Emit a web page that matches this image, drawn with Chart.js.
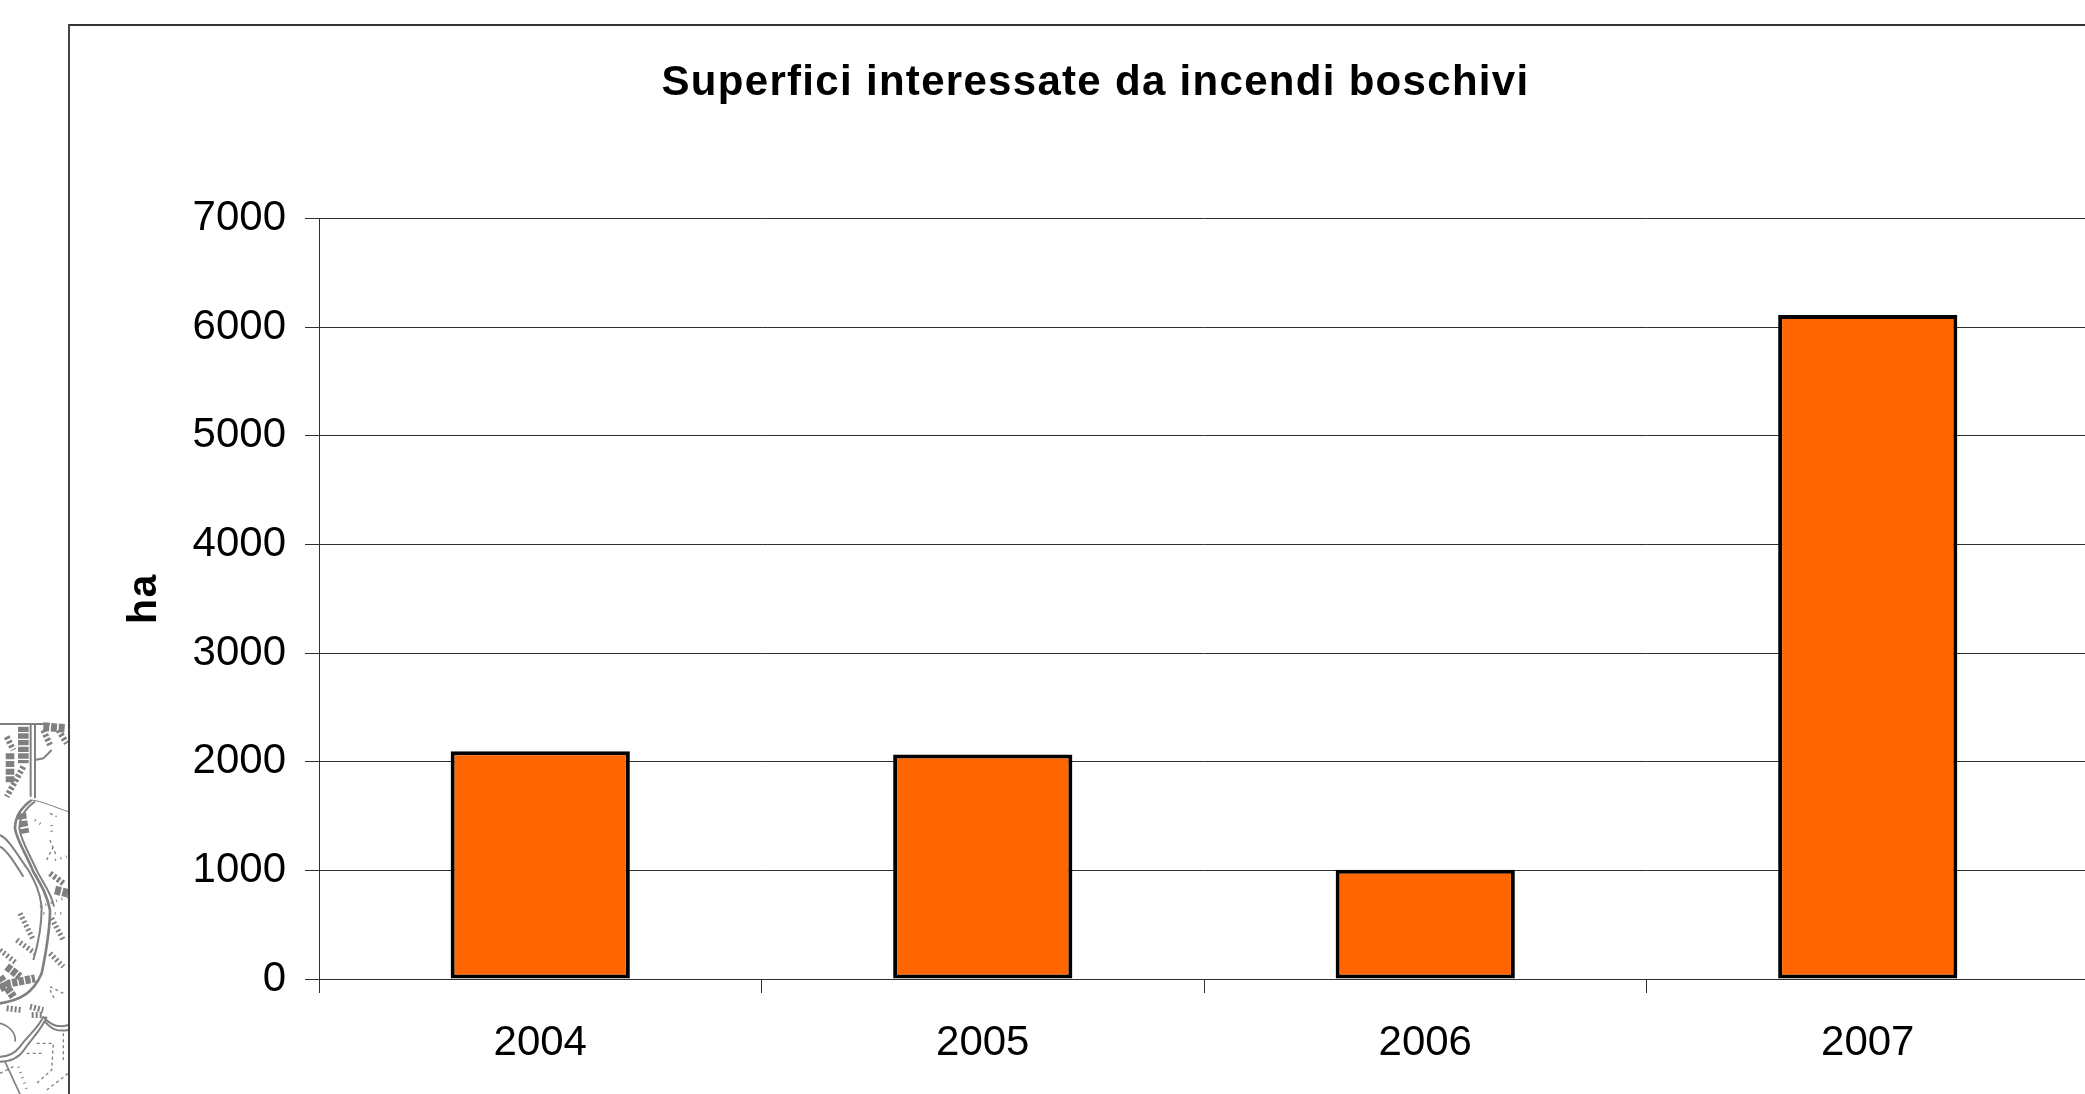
<!DOCTYPE html>
<html>
<head>
<meta charset="utf-8">
<title>Superfici interessate da incendi boschivi</title>
<script src="https://cdn.jsdelivr.net/npm/chart.js@4"></script>
<style>
  html, body { margin: 0; background: #fff; overflow: hidden; width: 2085px; height: 1094px; }
  #map { position: absolute; left: 0; top: 700px; }
  #frame { position: absolute; left: 68px; top: 24px; width: 2100px; height: 1200px; background: #fff; border-left: 2px solid #444; border-top: 2px solid #333; }
  #seasonChart { position: absolute; left: 0; top: 0; }
</style>
</head>
<body>
<!-- scrap of topographic map showing behind the chart frame -->
<svg id="map" width="69" height="394" viewBox="0 0 207 1182" fill="none" stroke="#808080" stroke-width="6">
  <path d="M0 72H150"/>
  <path stroke-width="6" d="M92 75V290M105 75V295M105 180L130 175L155 150"/>
  <path stroke-width="8" d="M95 300C60 325 45 350 45 385C50 420 75 455 100 515C120 550 140 580 150 630C150 700 135 770 125 820C100 880 60 900 0 910"/>
  <path stroke-width="6" d="M105 305C75 325 60 350 58 385C62 420 85 455 112 515C130 550 155 580 162 620"/>
  <path stroke-width="6" d="M0 405C30 420 55 470 85 510C105 545 120 575 125 620C125 680 115 730 100 780M0 440C20 450 45 490 70 530"/>
  <path stroke-width="3" d="M95 300C130 305 160 320 205 335"/>
  <path stroke-width="32" stroke-dasharray="16 4" d="M70 80V190"/>
  <path stroke-width="26" stroke-dasharray="18 5" d="M30 160V250M130 80L195 85M65 340L75 400M165 570L205 580"/>
  <path stroke-width="18" stroke-dasharray="8 6" d="M130 90L150 135M20 110L40 150M70 200L20 290M150 520L190 550M175 90L200 130"/>
  <path stroke-width="16" stroke-dasharray="6 7" d="M155 655L190 720M150 760L190 800M0 750L50 790M60 640L100 720M50 720L105 760"/>
  <path stroke-width="24" stroke-dasharray="16 4" d="M0 865L30 850L105 835M20 800L60 830M0 830L40 890"/>
  <path stroke-width="18" stroke-dasharray="6 6" d="M20 925L65 930M90 920L130 930M95 945L125 945"/>
  <path stroke-width="6" d="M130 950C115 985 80 1010 60 1040C45 1060 25 1070 0 1070M140 950C125 990 95 1015 72 1050C55 1075 30 1085 0 1085M130 950C150 975 175 985 205 975M135 965C155 990 175 995 205 990"/>
  <path stroke-width="5" d="M0 970C25 975 50 1000 45 1025M15 1085L45 1150L60 1182"/>
  <path stroke-width="4" stroke-dasharray="9 9" d="M110 1030H160L155 1110L110 1150M80 1060H130M140 1170L205 1120M190 1000V1080M0 1120L40 1100M150 860L190 880M150 870L165 900M150 420L170 470M160 440L140 480M150 340L170 350"/>
  <path stroke-width="8" stroke-dasharray="3 14" d="M120 620L205 590M130 640L190 640M155 375V395M105 360L125 375M165 480L200 470M55 1100L85 1180"/>
</svg>
<div id="frame"></div>
<canvas id="seasonChart" width="2190" height="1094"></canvas>
<script>
const years = ['2004', '2005', '2006', '2007'];
const hectares = [2095, 2065, 1005, 6110];
const chartTitle = 'Superfici interessate da incendi boschivi';
const yTitle = 'ha';
const lineColor = '#2e2e2e';

// title is letter-spaced in the original, only the title layer gets this
const titleSpacing = {
  id: 'titleSpacing',
  beforeDraw: function (chart) { chart.ctx.letterSpacing = '1.3px'; },
  beforeDatasetsDraw: function (chart) { chart.ctx.letterSpacing = '0px'; }
};

let seasonChart = document.getElementById('seasonChart').getContext('2d');
let fireChart = new Chart(seasonChart, {
  type: 'bar',
  data: {
    labels: years,
    datasets: [{
      data: hectares,
      backgroundColor: '#ff6600',
      borderColor: '#000000',
      borderWidth: 4,
      borderSkipped: false,
      barPercentage: 0.405,
      categoryPercentage: 1
    }]
  },
  plugins: [titleSpacing],
  options: {
    responsive: false,
    animation: false,
    layout: { padding: { left: 102, right: 101, top: 0, bottom: 0 } },
    plugins: {
      legend: { display: false },
      tooltip: { enabled: false },
      title: {
        display: true,
        text: chartTitle,
        color: '#000',
        font: { family: 'Liberation Sans', size: 42, weight: 'bold' },
        padding: { top: 58, bottom: 110 }
      }
    },
    scales: {
      x: {
        afterFit: function (scale) { scale.height = 115; },
        grid: { drawOnChartArea: false, color: lineColor, tickLength: 14, lineWidth: 1 },
        border: { color: lineColor },
        ticks: { z: 1, color: '#000', padding: 25, maxRotation: 0, font: { family: 'Liberation Sans', size: 42 } }
      },
      y: {
        min: 0,
        max: 7000,
        afterFit: function (scale) { scale.width = 217; },
        title: {
          display: true,
          text: yTitle,
          color: '#000',
          padding: { top: 18, bottom: 0 },
          font: { family: 'Liberation Sans', size: 41, weight: 'bold' }
        },
        grid: { color: lineColor, tickLength: 14, lineWidth: 1 },
        border: { color: lineColor },
        ticks: {
          z: 1,
          stepSize: 1000,
          color: '#000',
          padding: 19,
          font: { family: 'Liberation Sans', size: 42 },
          callback: function (value) { return String(value); }
        }
      }
    }
  }
});
</script>
</body>
</html>
